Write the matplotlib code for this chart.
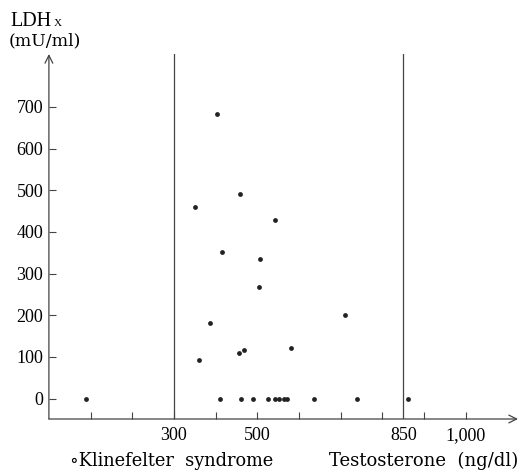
import matplotlib
matplotlib.use("Agg")
import matplotlib.pyplot as plt
import numpy as np

# Data (Testosterone ng/dl, LDHx mU/ml)
testosterone = [403, 459, 350, 542, 414, 506, 505, 386, 361, 455, 468, 580, 711,
                90, 410, 461, 489, 526, 543, 551, 563, 571, 635, 740, 862]
ldhx = [684, 491, 459, 429, 351, 334, 268, 182, 93, 109, 117, 122, 201,
        -1, -2, -2, -2, -2, -2, -2, -2, -2, -2, -2, -2]
ref_lines = [300, 850]
xtick_vals = [300, 500, 850, 1000]
xtick_labels = ["300", "500", "850", "1,000"]
xminor = [100, 200, 400, 600, 700, 800, 900]
ytick_vals = [0, 100, 200, 300, 400, 500, 600, 700]

W, H = 519, 470
fig = plt.figure(figsize=(W / 100, H / 100), dpi=100)
ax = fig.add_axes([48.9 / W, (H - 419) / H, (518 - 48.9) / W, (419 - 54) / H])
ax.set_xlim(0, 1125)
ax.set_ylim(-49, 827)
for s in ax.spines.values():
    s.set_visible(False)

lc = "#444444"
serif = ["Liberation Serif", "DejaVu Serif"]
wide = ["DejaVu Serif"]

# axes with arrows
ax.annotate("", xy=(1, 0), xytext=(0, 0), xycoords="axes fraction",
            arrowprops=dict(arrowstyle="->", lw=0.9, color=lc, shrinkA=0, shrinkB=0,
                            mutation_scale=14))
ax.annotate("", xy=(0, 1), xytext=(0, 0), xycoords="axes fraction",
            arrowprops=dict(arrowstyle="->", lw=0.9, color=lc, shrinkA=0, shrinkB=0,
                            mutation_scale=14))

for xv in ref_lines:
    ax.axvline(xv, color=lc, lw=0.9)

ax.scatter(testosterone, ldhx, s=12, color="#222222", zorder=3, linewidths=0)

ax.set_xticks(xtick_vals)
ax.set_xticklabels(xtick_labels, fontfamily=serif, fontsize=13)
ax.set_xticks(xminor, minor=True)
ax.set_yticks(ytick_vals)
ax.set_yticklabels([str(v) for v in ytick_vals], fontfamily=serif, fontsize=13)
ax.tick_params(axis="x", which="both", direction="in", length=5, width=0.8,
               color=lc, pad=6, bottom=True)
ax.tick_params(axis="y", which="both", direction="in", length=5, width=0.8,
               color=lc, pad=4, left=True)
for t in ax.xaxis.get_major_ticks():
    if t.get_loc() == 850:
        t.tick1line.set_visible(False)

fig.text(10 / W, 1 - 26 / H, "LDH", fontfamily=serif, fontsize=14.5, va="baseline")
fig.text(54 / W, 1 - 26 / H, "X", fontfamily=serif, fontsize=8, va="baseline")
fig.text(9 / W, 1 - 45 / H, "(mU/ml)", fontfamily=wide, fontsize=12.5, va="baseline")

fig.text(70 / W, 1 - 466 / H, "∘Klinefelter  syndrome", fontfamily=wide,
         fontsize=12.8, va="baseline")
fig.text(518 / W, 1 - 466 / H, "Testosterone  (ng/dl)", fontfamily=wide,
         fontsize=13, va="baseline", ha="right")

fig.savefig("out.png", dpi=100)
